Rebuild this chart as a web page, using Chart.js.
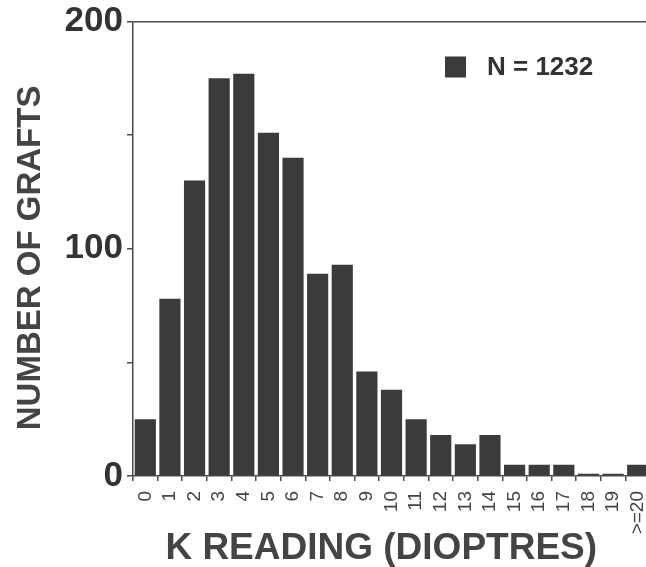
<!DOCTYPE html>
<html>
<head>
<meta charset="utf-8">
<title>K reading</title>
<script src="https://cdn.jsdelivr.net/npm/chart.js@4"></script>
<style>
  html, body { margin: 0; padding: 0; background: #fff; overflow: hidden; }
</style>
</head>
<body>
<canvas id="chart" width="652" height="567"></canvas>
<script>
'use strict';

var kReadings = ['0', '1', '2', '3', '4', '5', '6', '7', '8', '9', '10',
  '11', '12', '13', '14', '15', '16', '17', '18', '19', '>=20'];
var graftCounts = [25, 78, 130, 175, 177, 151, 140, 89, 93, 46, 38,
  25, 18, 14, 18, 5, 5, 5, 1, 1, 5];
var seriesLabel = 'N = 1232';
var yLabelled = [0, 100, 200];

var ink = '#4a4a4a';
var fontFamily = '"Liberation Sans", Arial, Helvetica, sans-serif';

// legend drawn inside the plot, top right
var boxLegend = {
  id: 'boxLegend',
  afterDraw: function(chart) {
    var ctx = chart.ctx;
    var area = chart.chartArea;
    var ds = chart.data.datasets[0];
    var x = area.left + 312;
    var y = area.top + 35;
    ctx.save();
    ctx.fillStyle = ds.backgroundColor;
    ctx.fillRect(x, y, 21, 21);
    ctx.fillStyle = '#333';
    ctx.font = 'bold 26px ' + fontFamily;
    ctx.textBaseline = 'middle';
    ctx.fillText(ds.label, x + 42, y + 11);
    ctx.restore();
  }
};

var ctx = document.getElementById('chart').getContext('2d');
var myChart = new Chart(ctx, {
  type: 'bar',
  data: {
    labels: kReadings,
    datasets: [{
      label: seriesLabel,
      data: graftCounts,
      backgroundColor: '#3b3b3b',
      borderWidth: 0,
      barPercentage: 0.86,
      categoryPercentage: 1
    }]
  },
  options: {
    responsive: false,
    animation: false,
    layout: { padding: { left: 0, top: 0, right: 2, bottom: 0 } },
    plugins: {
      legend: { display: false },
      tooltip: { enabled: false }
    },
    scales: {
      x: {
        grid: {
          offset: true,
          drawOnChartArea: false,
          tickColor: ink,
          tickLength: 5,
          lineWidth: 1.5
        },
        border: { color: ink, width: 1.5 },
        ticks: {
          autoSkip: false,
          minRotation: 90,
          maxRotation: 90,
          padding: 10,
          color: '#444',
          font: { family: fontFamily, size: 19 }
        },
        title: {
          display: true,
          text: 'K READING (DIOPTRES)  ',
          color: '#444',
          font: { family: fontFamily, size: 37, weight: 'bold', lineHeight: 1 },
          padding: { top: 0, bottom: 0 }
        },
        afterFit: function(scale) {
          scale.height = 91;
          scale.paddingRight = 0;
        }
      },
      y: {
        min: 0,
        max: 200,
        grid: {
          color: function(c) {
            return c.tick && c.tick.value === 200 ? ink : 'rgba(0,0,0,0)';
          },
          tickColor: ink,
          tickLength: 6,
          lineWidth: 1.5
        },
        border: { color: ink, width: 1.5 },
        ticks: {
          stepSize: 50,
          padding: 4,
          color: '#333',
          font: { family: fontFamily, size: 35, weight: 'bold', lineHeight: 1 },
          callback: function(v) { return yLabelled.indexOf(v) >= 0 ? v : ''; }
        },
        title: {
          display: true,
          text: 'NUMBER OF GRAFTS  ',
          color: '#444',
          font: { family: fontFamily, size: 33, weight: 'bold', lineHeight: 1 },
          padding: { top: 14, bottom: 0 }
        },
        afterFit: function(scale) { scale.width = 133; }
      }
    }
  },
  plugins: [boxLegend]
});
</script>
</body>
</html>
